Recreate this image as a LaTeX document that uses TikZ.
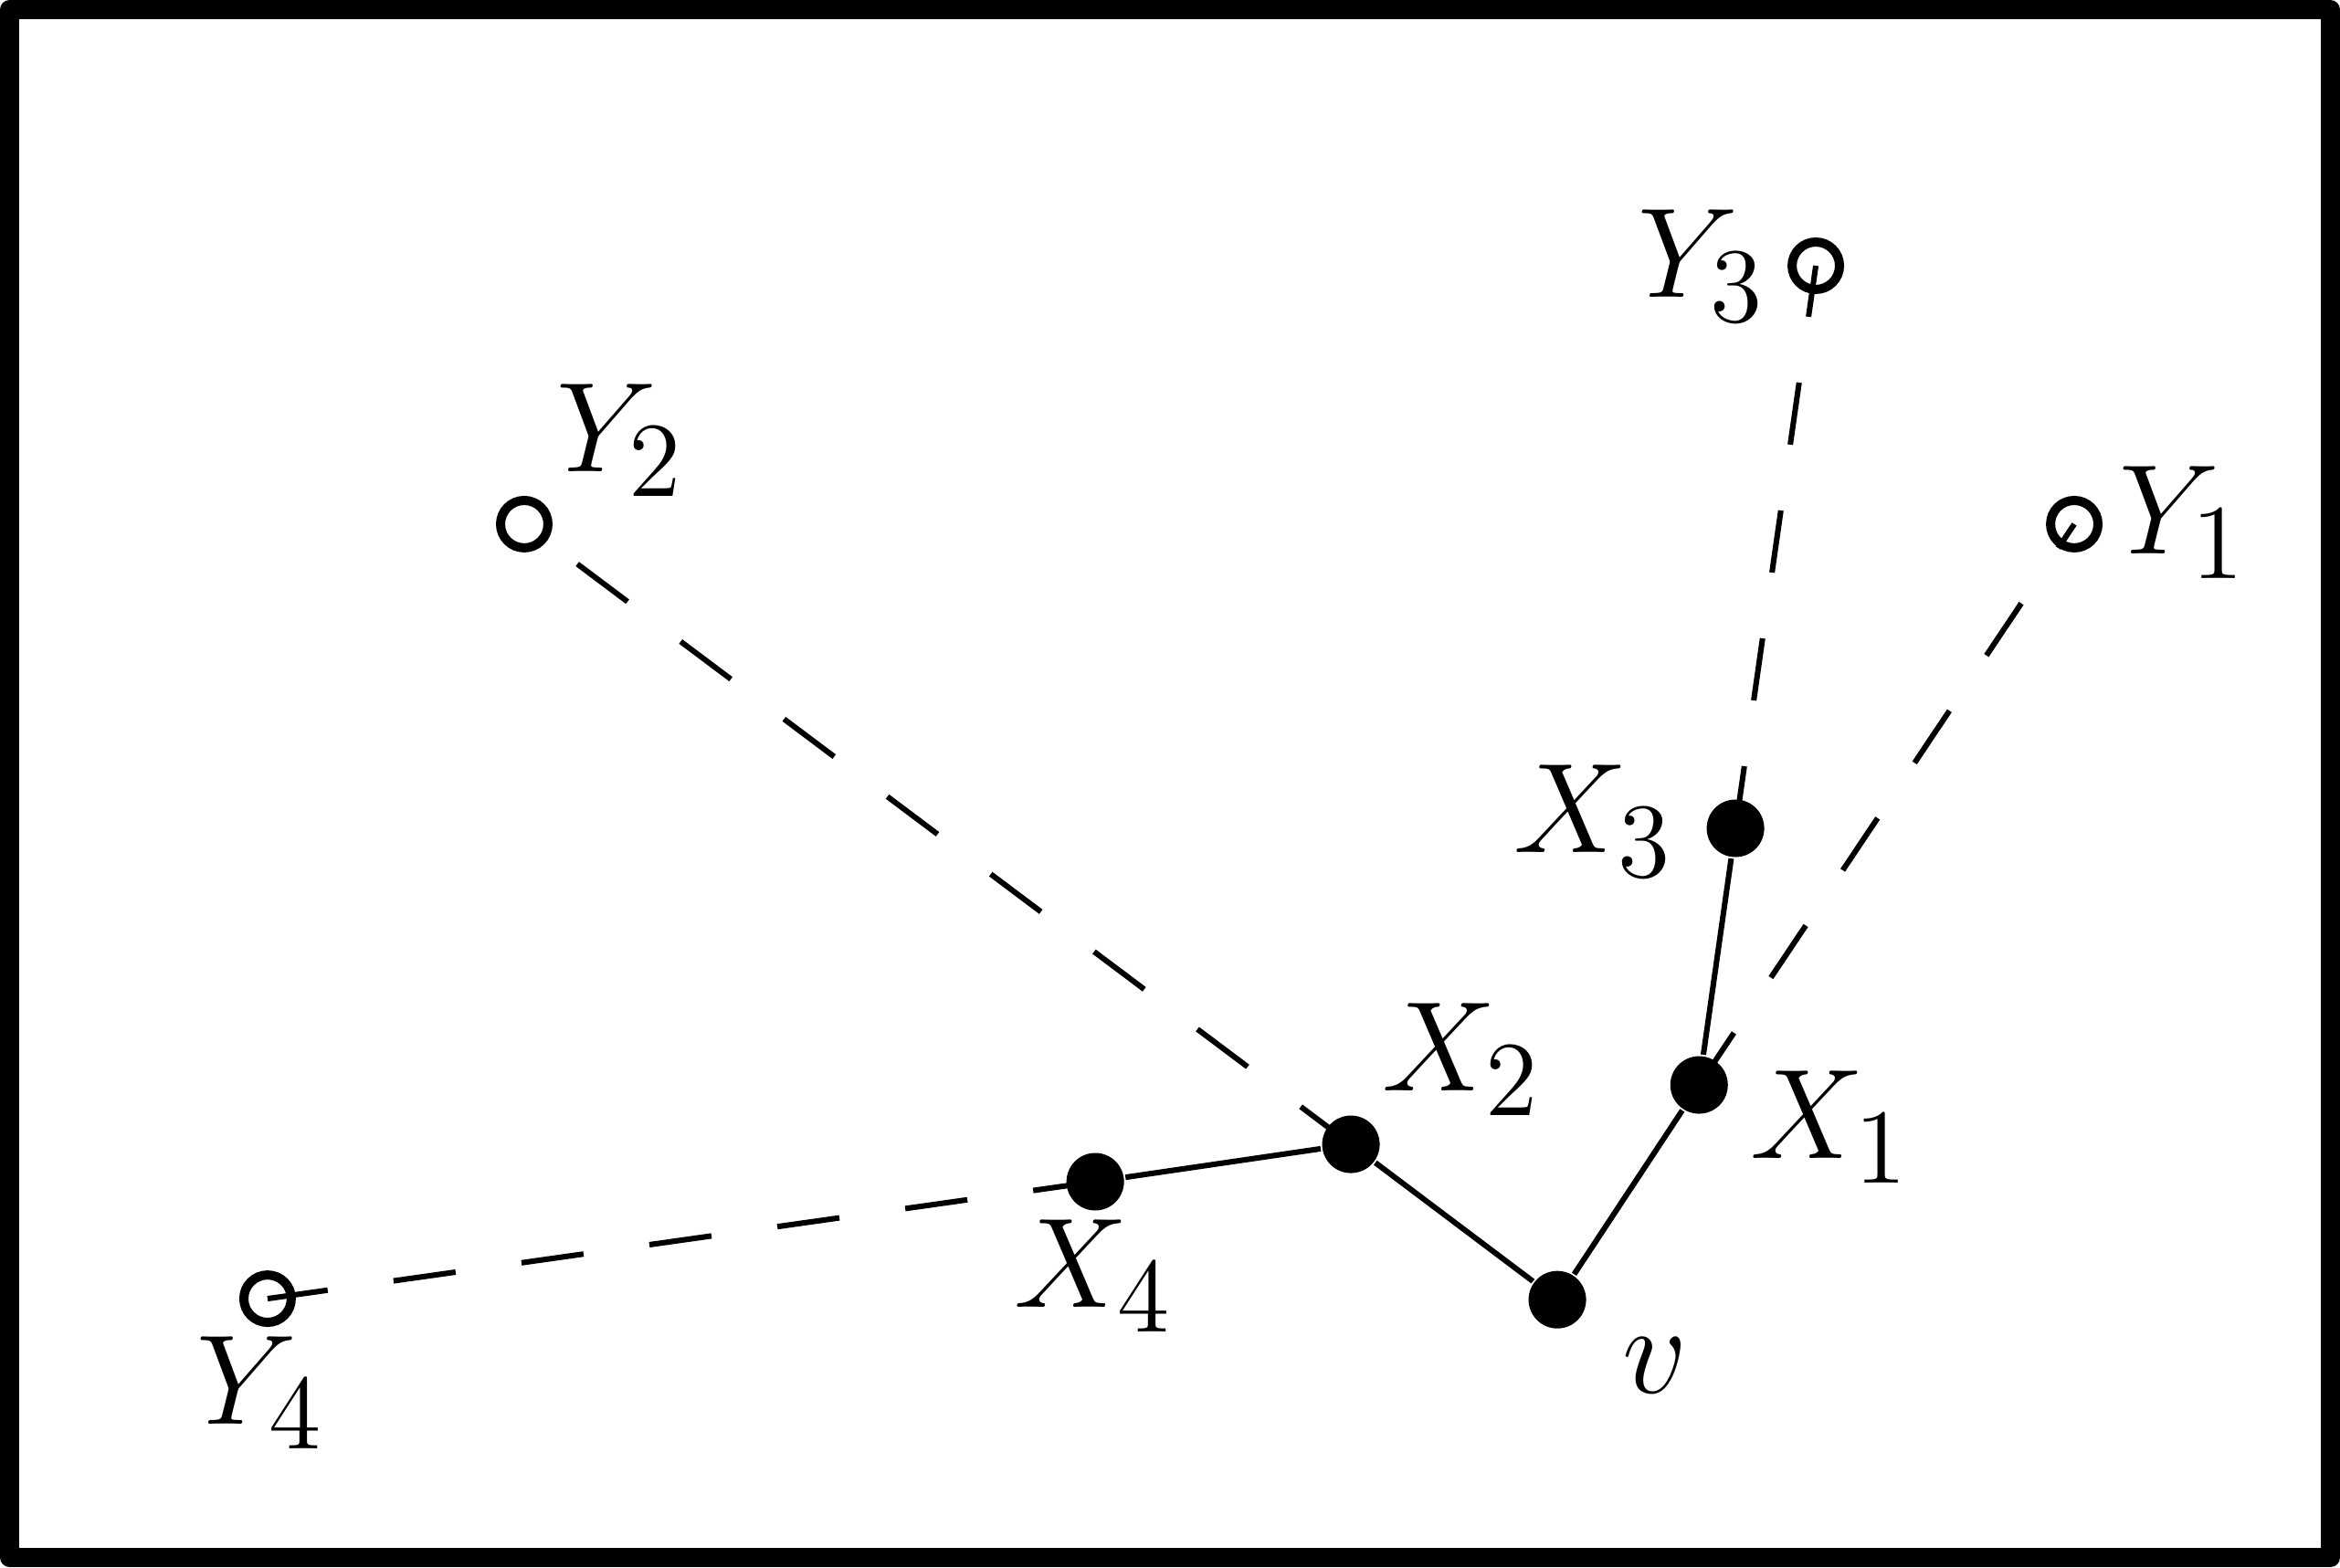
\documentclass[tikz,border=0pt]{standalone}
\usepackage{amsmath}
\usepackage{tikz}
\DeclareMathSizes{14.4}{14.4}{12}{10}
\begin{document}
\begin{tikzpicture}[
		font=\Large,
		frame/.style={line width=2.16pt,line join=round},
		edge/.style={line width=0.62pt},
		aux/.style={line width=0.62pt,dash pattern=on 7.06pt off 7.49pt},
		fdot/.style={circle,fill=black,inner sep=0pt,minimum size=6.48pt},
		odot/.style={circle,draw,line width=1.03pt,inner sep=0pt,minimum size=5.34pt},
		lbl/.style={inner sep=0pt}
	]

	% Frame
	\useasboundingbox (0,0) rectangle (9.262,6.204);
	\draw[frame] (0.038,0.038) rectangle (9.224,6.166);

	% Tree vertices
	\node[fdot] (v) at (6.164,1.059) {};
	\node[fdot] (X1) at (6.725,1.909) {};
	\node[fdot] (X2) at (5.347,1.674) {};
	\node[fdot] (X3) at (6.869,2.925) {};
	\node[fdot] (X4) at (4.335,1.526) {};

	% Far points
	\node[odot] (Y1) at (8.210,4.129) {};
	\node[odot] (Y2) at (2.075,4.129) {};
	\node[odot] (Y3) at (7.187,5.152) {};
	\node[odot] (Y4) at (1.059,1.063) {};

	% Solid edges
	\draw[edge] (v) -- (X1) -- (X3);
	\draw[edge] (v) -- (X2) -- (X4);

	% Dashed rays X_i to Y_i
	\foreach \i in {1,...,4}
		\draw[aux] (X\i.center) -- (Y\i.center);

	% Labels
	\node[lbl] (lv) at (6.551,0.799) {$v$};
	\node[lbl] (lX1) at (7.245,1.743) {$X_1$};
	\node[lbl] (lX2) at (5.788,2.010) {$X_2$};
	\node[lbl] (lX3) at (6.309,2.954) {$X_3$};
	\node[lbl] (lX4) at (4.331,1.153) {$X_4$};
	\node[lbl] (lY1) at (8.644,4.136) {$Y_1$};
	\node[lbl] (lY2) at (2.458,4.461) {$Y_2$};
	\node[lbl] (lY3) at (6.739,5.152) {$Y_3$};
	\node[lbl] (lY4) at (1.034,0.691) {$Y_4$};

\end{tikzpicture}
\end{document}
